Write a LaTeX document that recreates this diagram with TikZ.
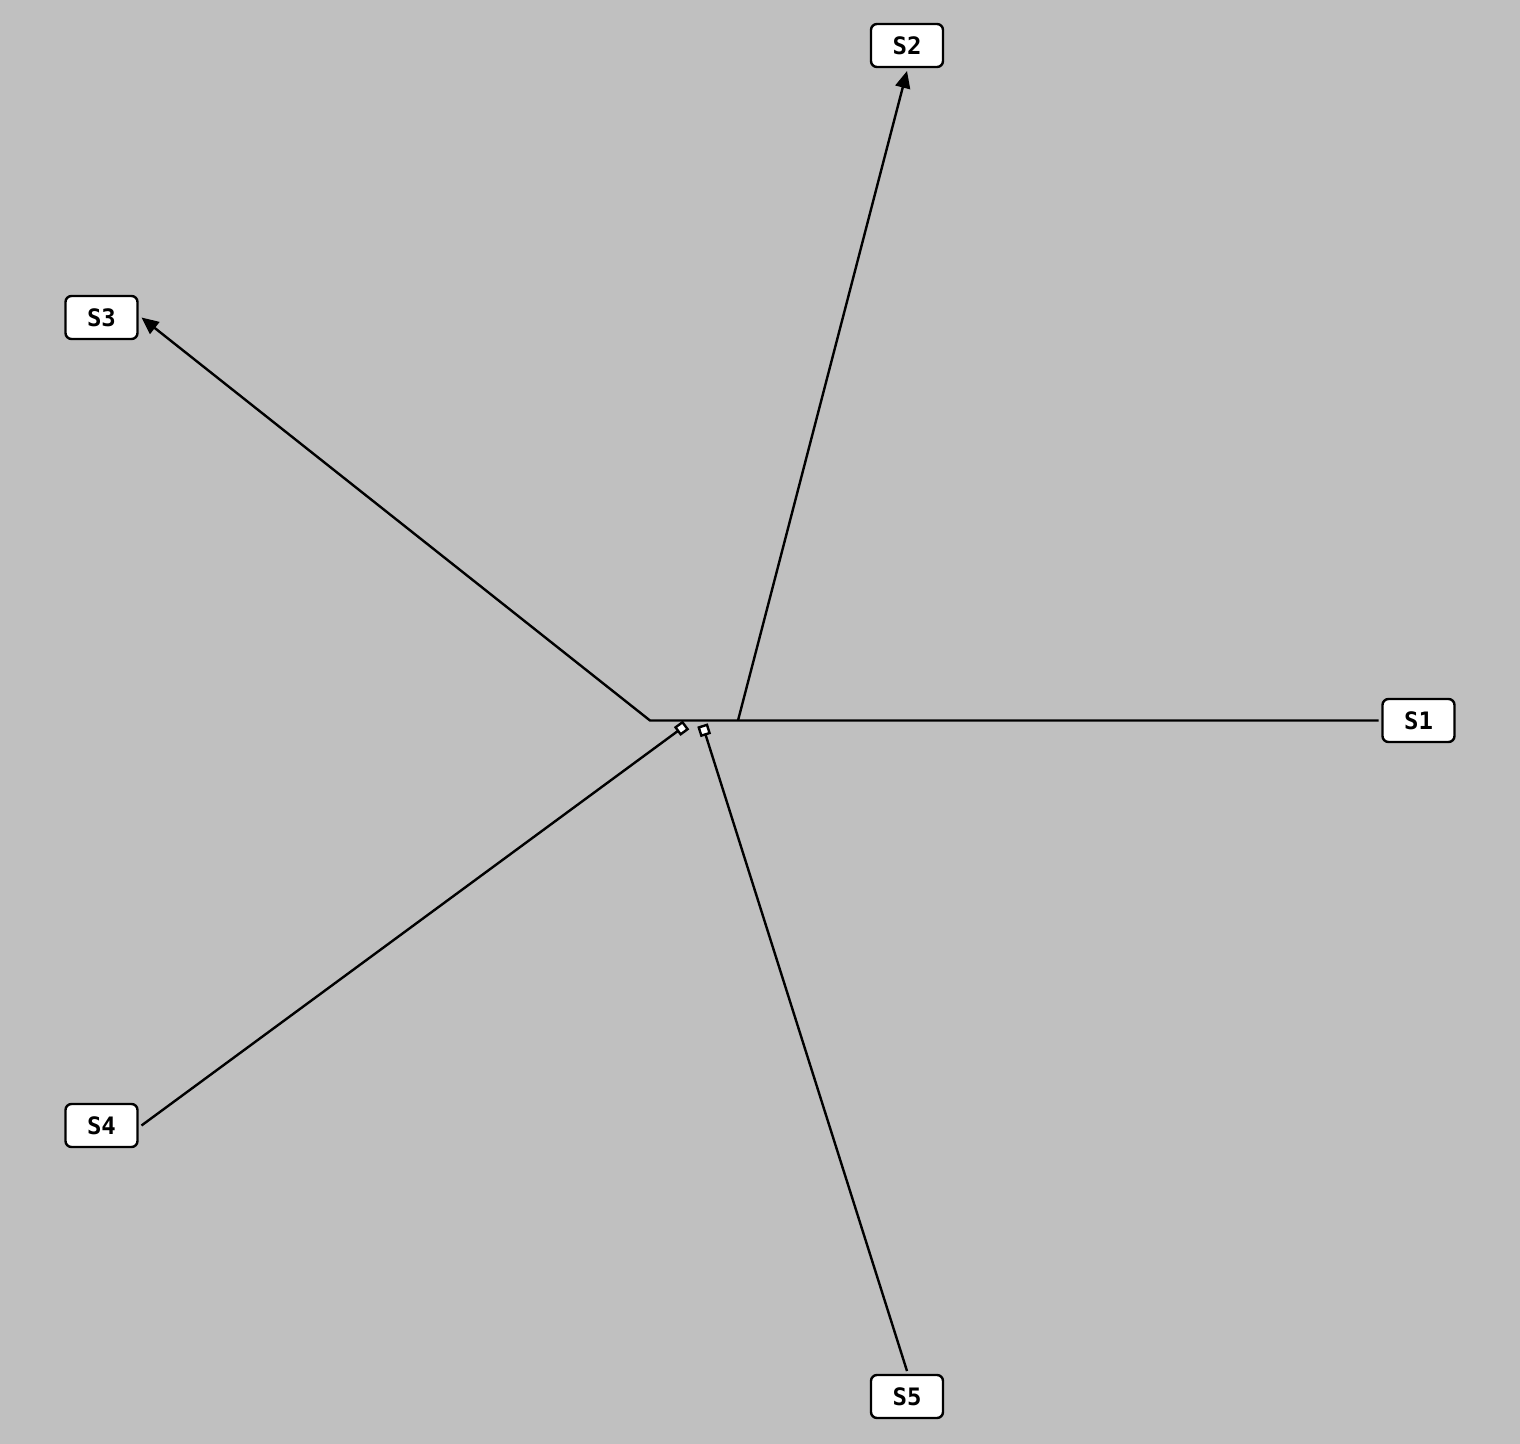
\documentclass[tikz,border=0pt]{standalone}
\usepackage{fontspec}
\setmonofont{DejaVu Sans Mono}
\usetikzlibrary{arrows.meta}
\begin{document}
\begin{tikzpicture}[x=0.5pt, y=-0.5pt,
  state/.style={draw, line width=1.2pt, fill=white, rounded corners=3pt,
    minimum width=36pt, minimum height=21.5pt, inner sep=0pt, outer sep=2pt,
    font=\fontsize{12}{14}\selectfont\ttfamily\bfseries},
  link/.style={line width=1.2pt},
  flow/.style={-{Triangle[length=8.5pt,width=7.5pt]}},
  tap/.style={-{Square[open,fill=white,length=5.5pt,width=5.5pt,line width=1.2pt]}}]
\definecolor{col}{HTML}{C0C0C0}
\fill[col] (0,0) rectangle (1520,1444);
% states
\node[state] (S1) at (1418.5,720.5) {S1};
\node[state] (S2) at (907,45.5) {S2};
\node[state] (S3) at (101.5,317.5) {S3};
\node[state] (S4) at (101.5,1125.5) {S4};
\node[state] (S5) at (907,1396.5) {S5};
% hub points
\coordinate (hubL) at (650,720.5);
\coordinate (hubR) at (738,720.5);
\coordinate (p4) at (686,725);
\coordinate (p5) at (702.5,725);
% connectors
\draw[link,flow] (S1.west) -- (hubL) -- (S3.east);
\draw[link,flow] (hubR) -- (S2.south);
\draw[link,tap] (S4.east) -- (p4);
\draw[link,tap] (S5.north) -- (p5);
\end{tikzpicture}
\end{document}
